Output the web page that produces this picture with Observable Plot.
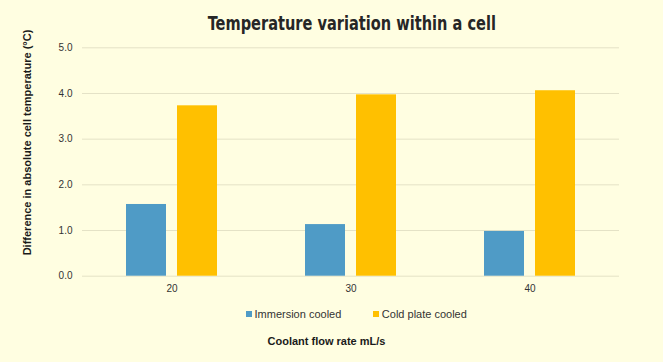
<!DOCTYPE html>
<html>
<head>
<meta charset="utf-8">
<script src="https://cdn.jsdelivr.net/npm/d3@7"></script>
<script src="https://cdn.jsdelivr.net/npm/@observablehq/plot@0.6"></script>
<style>
  html, body { margin: 0; padding: 0; background: #FFFEE1; }
  #chart { width: 663px; height: 362px; background: #FFFEE1; position: relative; overflow: hidden; }
  #title { height: 38px; line-height: 38px; padding-top: 4px; box-sizing: border-box; text-align: center; padding-left: 40px;
    font-family: "DejaVu Sans Condensed", "DejaVu Sans", sans-serif; font-stretch: condensed; font-weight: bold; font-size: 20px; color: #262626; }
  #title span { display: inline-block; transform: scaleX(0.81); transform-origin: center; }
  #plot svg { display: block; overflow: visible; }
  #legend { height: 36px; display: flex; align-items: center; padding-left: 246px; box-sizing: border-box;
    font-family: "Liberation Sans", Arial, sans-serif; font-size: 11px; color: #333; }
  .item { display: flex; align-items: center; }
  .sw { width: 6px; height: 6px; margin-right: 2.5px; }
  #xtitle { text-align: center; padding-right: 10px; font-family: "Liberation Sans", Arial, sans-serif; font-weight: bold; font-size: 11px; color: #1a1a1a; line-height: 14px; margin-top: 2px; }
</style>
</head>
<body>
<div id="chart">
  <div id="title"><span></span></div>
  <div id="plot"></div>
  <div id="legend"></div>
  <div id="xtitle"></div>
</div>
<script>
const titleText = "Temperature variation within a cell";
const yTitle = "Difference in absolute cell temperature (°C)";
const xTitle = "Coolant flow rate mL/s";
const flowRates = [20, 30, 40];
const seriesNames = ["Immersion cooled", "Cold plate cooled"];
const seriesColors = ["#4F9BC6", "#FFC000"];
const immersion = [1.57, 1.13, 0.98];
const coldPlate = [3.73, 3.97, 4.06];
const yTicks = [0, 1, 2, 3, 4, 5];

const data = [];
flowRates.forEach((f, i) => {
  data.push({flow: f, series: seriesNames[0], value: immersion[i]});
  data.push({flow: f, series: seriesNames[1], value: coldPlate[i]});
});

document.querySelector("#title span").textContent = titleText;
document.getElementById("xtitle").textContent = xTitle;

const plot = Plot.plot({
  width: 663,
  height: 258,
  marginLeft: 81,
  marginRight: 43,
  marginTop: 9.3,
  marginBottom: 20.3,
  style: {background: "transparent", fontFamily: "Liberation Sans, Arial, sans-serif", fontSize: "10px", color: "#333", overflow: "visible"},
  fx: {domain: flowRates, padding: 0, tickSize: 0, tickPadding: 8.5, label: null},
  x: {domain: seriesNames, paddingInner: 0.222, paddingOuter: 0.862, axis: null},
  y: {domain: [0, 5], ticks: yTicks, tickFormat: ".1f", tickSize: 0, tickPadding: 10, label: null},
  color: {domain: seriesNames, range: seriesColors},
  marks: [
    Plot.gridY(yTicks, {stroke: "#E4E2C6", strokeOpacity: 1, strokeWidth: 1}),
    Plot.barY(data, {fx: "flow", x: "series", y: "value", fill: "series"}),
    Plot.text([yTitle], {fx: [flowRates[0]], frameAnchor: "left", textAnchor: "middle", rotate: -90, dx: -55, dy: -19.5,
      fontWeight: "bold", fontSize: 11, fill: "#1a1a1a"})
  ]
});
document.getElementById("plot").appendChild(plot);

const legend = document.getElementById("legend");
seriesNames.forEach((name, i) => {
  const item = document.createElement("div");
  item.className = "item";
  if (i > 0) item.style.marginLeft = "32px";
  const sw = document.createElement("div");
  sw.className = "sw";
  sw.style.background = seriesColors[i];
  const label = document.createElement("span");
  label.textContent = name;
  item.appendChild(sw);
  item.appendChild(label);
  legend.appendChild(item);
});
</script>
</body>
</html>
